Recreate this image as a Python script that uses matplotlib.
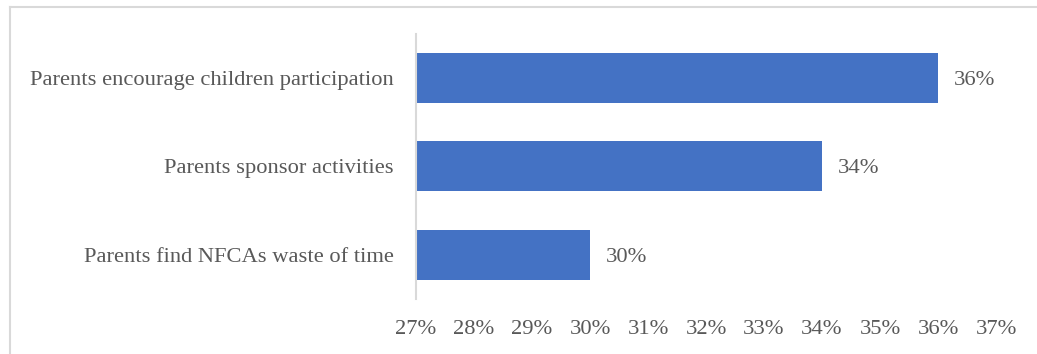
import matplotlib.pyplot as plt
from matplotlib.lines import Line2D

# reasons, bottom to top
reasons = ["Parents find NFCAs waste of time",
           "Parents sponsor activities",
           "Parents encourage children participation"]
shares = [30, 34, 36]
x_ticks = [27, 28, 29, 30, 31, 32, 33, 34, 35, 36, 37]

plt.rcParams['font.family'] = ['Liberation Serif', 'DejaVu Serif']
text_col = '#595959'

fig = plt.figure(figsize=(10.37, 3.54), dpi=100)
ax = fig.add_axes([0.4012, 0.1547, 0.5593, 0.75])

pos = list(range(len(reasons)))
ax.barh(pos, [s - 27 for s in shares], left=27, height=0.565, color='#4472C4')
for p, s in zip(pos, shares):
    ax.text(s + 0.27, p, f"{s}%", va='center_baseline', ha='left',
            fontsize=16.2, color=text_col)

ax.set_xlim(27, 37)
ax.set_ylim(-0.5, 2.5)
ax.set_xticks(x_ticks)
ax.set_xticklabels([f"{t}%" for t in x_ticks])
ax.set_yticks(pos)
ax.set_yticklabels(reasons, va='center_baseline')
ax.tick_params(axis='x', length=0, pad=15, labelsize=16.2, labelcolor=text_col)
ax.tick_params(axis='y', length=0, pad=16, labelsize=16.2, labelcolor=text_col)

for side in ['top', 'right', 'bottom']:
    ax.spines[side].set_visible(False)
ax.spines['left'].set_color('#d9d9d9')
ax.spines['left'].set_linewidth(1.5)

# chart frame (top and left edges)
fig.add_artist(Line2D([9.5 / 1037, 1], [1 - 6.5 / 354, 1 - 6.5 / 354],
                      transform=fig.transFigure, color='#d9d9d9', lw=1.5))
fig.add_artist(Line2D([9.5 / 1037, 9.5 / 1037], [0, 1 - 6.5 / 354],
                      transform=fig.transFigure, color='#d9d9d9', lw=1.5))

fig.savefig('out.png', dpi=100)
